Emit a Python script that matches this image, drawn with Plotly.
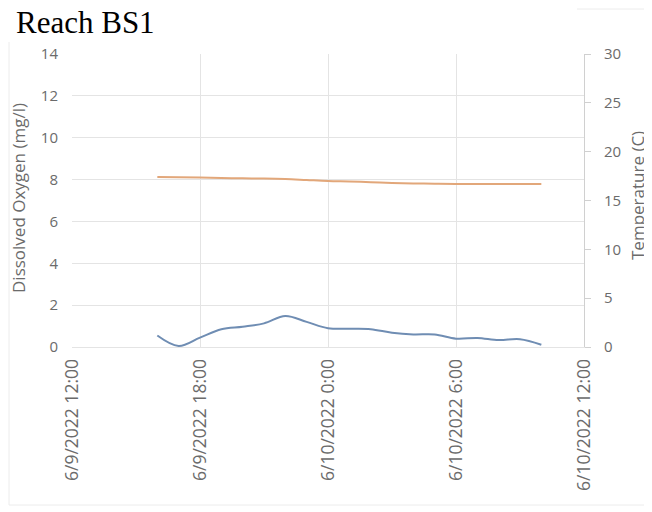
import plotly.graph_objects as go
import pandas as pd

# hourly readings, Reach BS1
times = pd.date_range("2022-06-09 16:00", "2022-06-10 10:00", freq="h")
dissolved_oxygen = [0.55, 0.05, 0.45, 0.85, 0.97, 1.13, 1.48, 1.2, 0.9, 0.87,
                    0.85, 0.68, 0.6, 0.6, 0.4, 0.43, 0.33, 0.37, 0.11]
temperature = [17.4, 17.38, 17.35, 17.3, 17.27, 17.25, 17.2, 17.1, 17.0, 16.95,
               16.88, 16.8, 16.75, 16.72, 16.7, 16.7, 16.7, 16.7, 16.7]

x_ticks = ["2022-06-09 12:00", "2022-06-09 18:00", "2022-06-10 00:00",
           "2022-06-10 06:00", "2022-06-10 12:00"]
x_labels = ["6/9/2022 12:00", "6/9/2022 18:00", "6/10/2022 0:00",
            "6/10/2022 6:00", "6/10/2022 12:00"]

font_col = "#6b6b6b"
grid_col = "#e4e4e4"
fnt = "Open Sans, Noto Sans, sans-serif"

# page has an 8px body margin, so the figure is a bit smaller than the window
W, H = 644, 504
L, T = 64, 46   # plot area starts at page (72, 54)

fig = go.Figure()
fig.add_trace(go.Scatter(x=times, y=dissolved_oxygen, mode="lines",
                         line=dict(color="#6f8db3", width=2, shape="spline"),
                         name="Dissolved Oxygen"))
fig.add_trace(go.Scatter(x=times, y=temperature, mode="lines", yaxis="y2",
                         line=dict(color="#e2a77a", width=2, shape="spline"),
                         name="Temperature"))

fig.update_layout(
    width=W, height=H,
    margin=dict(l=L, r=W - L - 512, t=T, b=H - T - 293),
    paper_bgcolor="white", plot_bgcolor="white",
    showlegend=False,
    font=dict(family=fnt, size=14, color=font_col),
    title=dict(text="Reach BS1", x=8 / W, xanchor="left", y=1 - 14 / H, yanchor="middle",
               font=dict(family="Liberation Serif, Times New Roman, serif", size=31, color="black")),
    xaxis=dict(range=[x_ticks[0], x_ticks[-1]], tickvals=x_ticks, ticktext=x_labels,
               tickangle=-90, showgrid=True, gridcolor=grid_col, gridwidth=1,
               showline=True, linecolor=grid_col, zeroline=False, ticks="",
               automargin=False, ticklabelstandoff=4,
               tickfont=dict(size=17.5, color=font_col)),
    yaxis=dict(range=[0, 14], dtick=2, showgrid=True, gridcolor=grid_col,
               zeroline=False, showline=False, ticks="", automargin=False,
               ticklabelstandoff=13, tickfont=dict(size=15, color=font_col)),
    yaxis2=dict(range=[0, 30], dtick=5, overlaying="y", side="right",
                showgrid=False, zeroline=False, showline=True, linecolor="#d0d0d0",
                ticks="outside", ticklen=6, tickcolor="#d0d0d0", automargin=False,
                ticklabelstandoff=10, tickfont=dict(size=15, color=font_col)),
)

# axis titles (positions relative to plot area 512x293)
fig.add_annotation(text="Dissolved Oxygen (mg/l)", xref="paper", yref="paper",
                   x=(18 - 72) / 512, y=(347 - 198) / 293, xanchor="center", yanchor="middle",
                   textangle=-90, showarrow=False,
                   font=dict(family=fnt, size=17, color=font_col))
fig.add_annotation(text="Temperature (C)", xref="paper", yref="paper",
                   x=(637 - 72) / 512, y=(347 - 196) / 293, xanchor="center", yanchor="middle",
                   textangle=-90, showarrow=False,
                   font=dict(family=fnt, size=17, color=font_col))

# faint chart-area frame
fig.add_shape(type="line", xref="paper", yref="paper",
              x0=(9 - 72) / 512, x1=(9 - 72) / 512, y0=(347 - 505) / 293, y1=(347 - 42) / 293,
              line=dict(color="#ececec", width=1))
fig.add_shape(type="line", xref="paper", yref="paper",
              x0=(9 - 72) / 512, x1=(651 - 72) / 512, y0=(347 - 505) / 293, y1=(347 - 505) / 293,
              line=dict(color="#ececec", width=1))
fig.add_shape(type="line", xref="paper", yref="paper",
              x0=(577 - 72) / 512, x1=(651 - 72) / 512, y0=(347 - 9) / 293, y1=(347 - 9) / 293,
              line=dict(color="#ececec", width=1))

fig.write_html("out.html")
